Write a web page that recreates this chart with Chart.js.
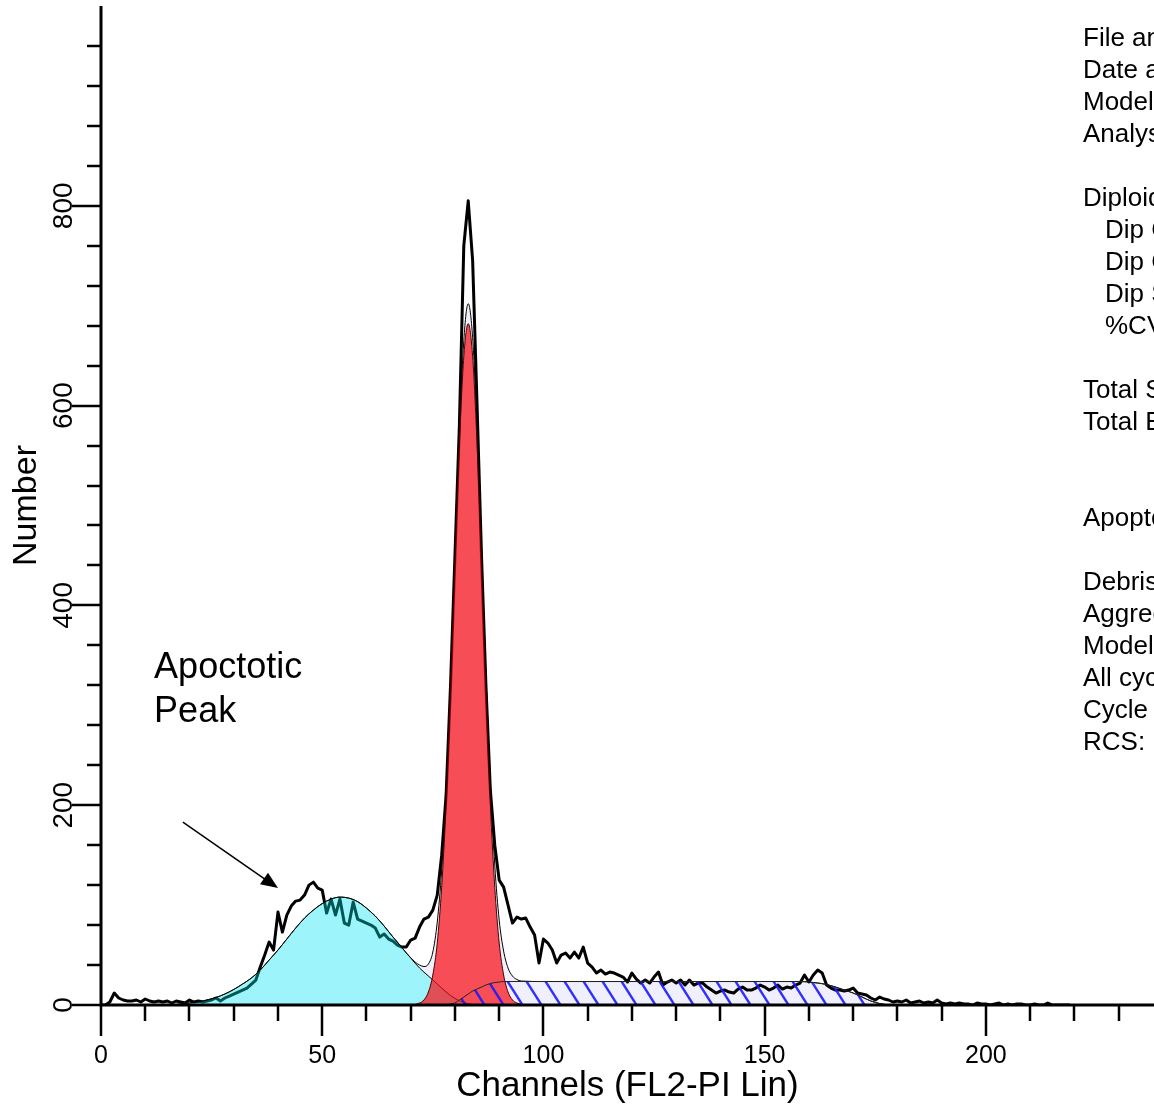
<!DOCTYPE html>
<html>
<head>
<meta charset="utf-8">
<script src="https://cdn.jsdelivr.net/npm/chart.js@4.4.0/dist/chart.umd.min.js"></script>
<style>
  html, body { margin: 0; padding: 0; background: #fff; overflow: hidden; }
  canvas { display: block; }
</style>
</head>
<body>
<canvas id="myChart" width="1154" height="1107"></canvas>
<script>
// raw DNA histogram, one value per channel starting at channel 0
const histogram = [
  0, 0, 3, 12, 7, 5, 4, 4, 5, 3,
  6, 4, 3, 4, 3, 4, 2, 4, 3, 2,
  5, 3, 4, 3, 4, 5, 7, 4, 7, 9,
  11, 13, 15, 17, 21, 25, 38, 50, 63, 55,
  93, 73, 90, 99, 104, 105, 110, 120, 123, 117,
  115, 92, 106, 90, 106, 82, 80, 103, 86, 84,
  82, 80, 77, 68, 71, 66, 64, 60, 58, 58,
  65, 67, 78, 86, 88, 95, 110, 150, 210, 320,
  450, 580, 760, 805, 745, 600, 450, 320, 215, 160,
  125, 118, 100, 82, 88, 86, 87, 78, 70, 42,
  66, 62, 55, 42, 50, 52, 47, 53, 47, 58,
  42, 38, 32, 35, 31, 33, 32, 30, 28, 23,
  32, 26, 22, 25, 22, 28, 33, 20, 23, 25,
  22, 25, 20, 25, 20, 22, 22, 18, 15, 12,
  14, 15, 13, 12, 16, 18, 15, 15, 17, 20,
  18, 15, 17, 20, 16, 18, 17, 20, 22, 30,
  23, 30, 35, 32, 20, 17, 15, 15, 14, 15,
  17, 12, 11, 10, 7, 5, 8, 6, 5, 3,
  4, 3, 5, 2, 3, 4, 2, 3, 2, 5,
  2, 1, 2, 1, 2, 1, 1, 0, 2, 1,
  1, 0, 1, 2, 0, 1, 0, 1, 1, 0,
  0, 1, 0, 0, 2, 0, 0, 0, 0, 0
];

// apoptotic peak model
const apoCh  = [16, 18, 20, 22, 24, 26, 28, 30, 32, 34, 36, 38, 40, 42, 44, 46, 48, 50, 52, 54,
                56, 58, 60, 62, 64, 66, 68, 70, 72, 74, 76, 78, 80, 82, 84, 86];
const apoVal = [0, 1, 2, 3, 5, 7.5, 11, 15.5, 21, 27, 35, 45, 55, 66, 77, 87, 95, 101.5, 106, 108,
                107, 103.5, 97, 89, 79, 68, 57.5, 47, 37, 29, 21, 13, 6.5, 2.5, 0.5, 0];

// diploid G1 peak model
const g1Ch  = [71, 72, 73, 74, 75, 76, 77, 78, 79, 80, 81, 82, 83, 84, 85, 86, 87, 88, 89, 90, 91, 92, 93, 94, 95];
const g1Val = [0.6, 2, 5, 13, 30, 62, 118, 201, 312, 439, 561, 649, 682, 649, 561, 439, 312, 201, 118, 62, 30, 13, 5, 2, 0.6];

// S phase model
const sCh  = [78, 79, 80, 81, 82, 83, 84, 85, 86, 87, 88, 89, 90, 91, 95, 100, 120, 140, 158,
              160, 162, 164, 166, 168, 170, 172, 174, 176, 178];
const sVal = [0, 1, 2, 5, 8, 11, 14, 16, 18, 20, 21.5, 22.5, 23, 23.5, 23.5, 23.5, 23.5, 23.5, 23.5,
              23, 22, 20.5, 18, 15, 12, 8, 4, 1.5, 0];

// sum of all model components around the G1 peak
const fitCh  = [60, 61, 62, 63, 64, 65, 66, 67, 68, 69, 70, 71, 72, 73, 74, 75, 76, 77, 78, 79,
                80, 81, 82, 83, 84, 85, 86, 87, 88, 89, 90, 91, 92, 93, 94, 95];
const fitVal = [97, 93, 89, 84, 79, 73.5, 68, 63, 57.5, 52, 47.5, 43, 40, 38.5, 41, 53, 83, 135, 214, 322,
                447, 570, 665, 702, 668, 578, 457, 332, 223, 140, 85, 54, 37, 29, 25.5, 24];

const xTickValues = [0, 10, 20, 30, 40, 50, 60, 70, 80, 90, 100, 110, 120, 130, 140, 150, 160, 170, 180, 190, 200, 210, 220, 230];
const xLabels = [0, 50, 100, 150, 200];
const yTickValues = [0, 40, 80, 120, 160, 200, 240, 280, 320, 360, 400, 440, 480, 520, 560, 600, 640, 680, 720, 760, 800, 840, 880, 920, 960];
const yLabels = [0, 200, 400, 600, 800];

const panelLines = [
  ['File analyzed:', 0], ['Date analyzed:', 0], ['Model:', 0], ['Analysis type:', 0], ['', 0],
  ['Diploid:', 0], ['Dip G1:', 1], ['Dip G2:', 1], ['Dip S:', 1], ['%CV:', 1], ['', 0],
  ['Total S-Phase:', 0], ['Total B.A.D.:', 0], ['', 0], ['', 0],
  ['Apoptotic:', 0], ['', 0],
  ['Debris:', 0], ['Aggregates:', 0], ['Modeled events:', 0], ['All cycle events:', 0],
  ['Cycle events per channel:', 0], ['RCS:', 0]
];

const FONT = '"Liberation Sans", Arial, Helvetica, sans-serif';

function zip(xs, ys) {
  return xs.map((x, i) => ({ x: x, y: ys[i] }));
}

// diagonal blue hatch for the S phase
function makeHatch() {
  const w = 19, h = 30;
  const tile = document.createElement('canvas');
  tile.width = w;
  tile.height = h;
  const tc = tile.getContext('2d');
  tc.strokeStyle = 'rgba(25,25,255,0.9)';
  tc.lineWidth = 2.4;
  tc.beginPath();
  [-w, 0, w].forEach(dx => {
    tc.moveTo(dx - w * 0.2, -h * 0.2);
    tc.lineTo(dx + w * 1.2, h * 1.2);
  });
  tc.stroke();
  return tc.createPattern(tile, 'repeat');
}

const axisDecor = {
  id: 'axisDecor',
  afterDatasetsDraw(chart) {
    const { ctx, chartArea: a, scales: { x, y } } = chart;
    ctx.save();
    ctx.strokeStyle = '#000';
    ctx.lineWidth = 3;
    ctx.beginPath();
    ctx.moveTo(a.left, a.top);
    ctx.lineTo(a.left, a.bottom + 1.5);
    ctx.moveTo(a.left - 1.5, a.bottom);
    ctx.lineTo(a.right, a.bottom);
    ctx.stroke();

    ctx.lineWidth = 2.5;
    ctx.beginPath();
    xTickValues.forEach(v => {
      const px = Math.round(x.getPixelForValue(v));
      const len = xLabels.includes(v) ? 31 : 16;
      ctx.moveTo(px, a.bottom);
      ctx.lineTo(px, a.bottom + len);
    });
    yTickValues.forEach(v => {
      const py = Math.round(y.getPixelForValue(v));
      const len = yLabels.includes(v) ? 29 : 14;
      ctx.moveTo(a.left, py);
      ctx.lineTo(a.left - len, py);
    });
    ctx.stroke();

    ctx.fillStyle = '#000';
    ctx.textAlign = 'center';
    ctx.textBaseline = 'alphabetic';
    ctx.font = '25px ' + FONT;
    xLabels.forEach(v => {
      ctx.fillText(String(v), x.getPixelForValue(v), a.bottom + 58);
    });
    ctx.font = '28px ' + FONT;
    yLabels.forEach(v => {
      ctx.save();
      ctx.translate(a.left - 29, y.getPixelForValue(v));
      ctx.rotate(-Math.PI / 2);
      ctx.fillText(String(v), 0, 0);
      ctx.restore();
    });
    ctx.restore();
  },
  afterDraw(chart) {
    const { ctx, scales: { x, y } } = chart;
    ctx.save();
    ctx.fillStyle = '#000';
    ctx.strokeStyle = '#000';

    // annotation
    ctx.font = '36px ' + FONT;
    ctx.textAlign = 'left';
    ctx.textBaseline = 'alphabetic';
    ctx.fillText('Apoctotic', x.getPixelForValue(12), y.getPixelForValue(327));
    ctx.fillText('Peak', x.getPixelForValue(12), y.getPixelForValue(283));

    const x0 = x.getPixelForValue(18.5), y0 = y.getPixelForValue(183);
    const x1 = x.getPixelForValue(40), y1 = y.getPixelForValue(117);
    const ang = Math.atan2(y1 - y0, x1 - x0);
    ctx.lineWidth = 1.5;
    ctx.beginPath();
    ctx.moveTo(x0, y0);
    ctx.lineTo(x1 - 12 * Math.cos(ang), y1 - 12 * Math.sin(ang));
    ctx.stroke();
    ctx.beginPath();
    ctx.moveTo(x1, y1);
    ctx.lineTo(x1 - 17 * Math.cos(ang) + 7 * Math.sin(ang), y1 - 17 * Math.sin(ang) - 7 * Math.cos(ang));
    ctx.lineTo(x1 - 17 * Math.cos(ang) - 7 * Math.sin(ang), y1 - 17 * Math.sin(ang) + 7 * Math.cos(ang));
    ctx.closePath();
    ctx.fill();

    // report panel (runs off the right edge like the original)
    ctx.font = '26px ' + FONT;
    ctx.textBaseline = 'middle';
    panelLines.forEach((line, i) => {
      if (!line[0]) return;
      ctx.fillText(line[0], 1083 + line[1] * 22, 39 + i * 32);
    });
    ctx.restore();
  }
};

const ctx = document.getElementById('myChart').getContext('2d');

// total model curve: apoptotic tail on the left, fitted sum around G1, S phase on the right
const modelPoints = zip(apoCh, apoVal).filter(p => p.x < 60)
  .concat(zip(fitCh, fitVal))
  .concat(zip(sCh, sVal).filter(p => p.x > 95));

new Chart(ctx, {
  type: 'line',
  data: {
    datasets: [
      {
        label: 'Model fit',
        data: modelPoints,
        borderColor: '#000',
        borderWidth: 1,
        backgroundColor: '#efeffd',
        fill: 'origin',
        cubicInterpolationMode: 'monotone',
        pointRadius: 0,
        order: 6
      },
      {
        label: 'Data',
        data: histogram.map((v, i) => ({ x: i, y: v })),
        borderColor: '#000',
        borderWidth: 3,
        borderJoinStyle: 'round',
        fill: false,
        tension: 0,
        pointRadius: 0,
        order: 5
      },
      {
        label: 'Apoptotic',
        data: zip(apoCh, apoVal),
        borderColor: '#000',
        borderWidth: 1,
        backgroundColor: 'rgba(0,255,244,0.34)',
        fill: 'origin',
        cubicInterpolationMode: 'monotone',
        pointRadius: 0,
        order: 4
      },
      {
        label: 'Dip G1',
        data: zip(g1Ch, g1Val),
        borderColor: '#4a0000',
        borderWidth: 1,
        backgroundColor: 'rgba(250,8,16,0.7)',
        fill: 'origin',
        cubicInterpolationMode: 'monotone',
        pointRadius: 0,
        order: 3
      },
      {
        label: 'Dip S',
        data: zip(sCh, sVal),
        borderColor: '#222',
        borderWidth: 1,
        backgroundColor: makeHatch(),
        fill: 'origin',
        cubicInterpolationMode: 'monotone',
        pointRadius: 0,
        order: 2
      }
    ]
  },
  options: {
    responsive: false,
    devicePixelRatio: 1,
    animation: false,
    events: [],
    layout: { padding: { top: 6, right: 0, bottom: 0, left: 0 } },
    plugins: {
      legend: { display: false },
      tooltip: { enabled: false }
    },
    scales: {
      x: {
        type: 'linear',
        min: 0,
        max: 238,
        grid: { display: false },
        border: { display: false },
        ticks: { display: false },
        title: {
          display: true,
          text: 'Channels (FL2-PI Lin)',
          color: '#000',
          font: { family: FONT, size: 35, lineHeight: 1 },
          padding: { top: 0, bottom: 3 }
        },
        afterFit: s => { s.height = 102; }
      },
      y: {
        type: 'linear',
        min: 0,
        max: 1000,
        grid: { display: false },
        border: { display: false },
        ticks: { display: false },
        title: {
          display: true,
          text: 'Number',
          color: '#000',
          font: { family: FONT, size: 34, lineHeight: 1 },
          padding: { top: 10, bottom: 0 }
        },
        afterFit: s => { s.width = 101; }
      }
    }
  },
  plugins: [axisDecor]
});
</script>
</body>
</html>
